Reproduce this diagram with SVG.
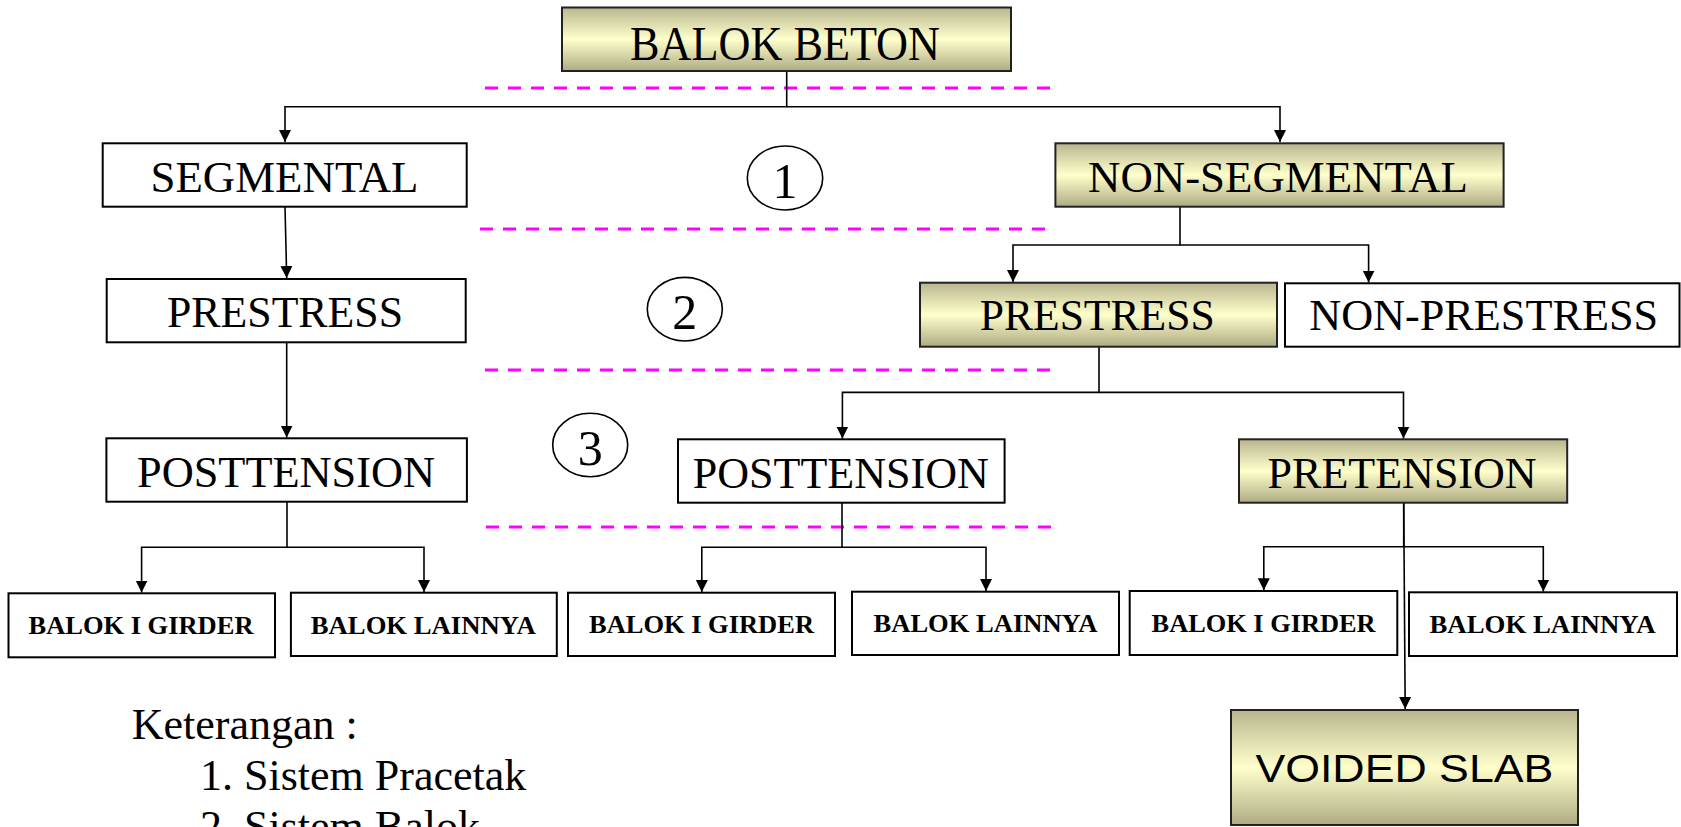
<svg xmlns="http://www.w3.org/2000/svg" width="1681" height="827" viewBox="0 0 1681 827">
<defs>
<linearGradient id="olive" x1="0" y1="0" x2="0" y2="1">
<stop offset="0" stop-color="#b9b68e"/>
<stop offset="0.5" stop-color="#ffffcc"/>
<stop offset="1" stop-color="#aeab83"/>
</linearGradient>
<marker id="arr" markerUnits="userSpaceOnUse" markerWidth="14" markerHeight="14" viewBox="0 0 14 14" refX="12" refY="7" orient="auto">
<path d="M0,1 L12,7 L0,13 Z" fill="#000"/>
</marker>
<style>
.plain{fill:#fff;stroke:#000;stroke-width:2}
.grad{fill:url(#olive);stroke:#222;stroke-width:2}
.t{font-family:"Liberation Serif","Times New Roman",serif;font-size:45px;fill:#000;text-anchor:middle}
.tb{font-family:"Liberation Serif","Times New Roman",serif;font-size:26px;font-weight:bold;fill:#000;text-anchor:middle}
.conn path{fill:none;stroke:#000;stroke-width:1.6}
.dash{stroke:#ff00ff;stroke-width:3;stroke-dasharray:13 10;fill:none}
.circ{fill:#fff;stroke:#000;stroke-width:1.6}
.num{font-family:"Liberation Serif","Times New Roman",serif;font-size:50px;fill:#000;text-anchor:middle}
.leg{font-family:"Liberation Serif","Times New Roman",serif;font-size:44px;fill:#000}
</style>
</defs>
<rect width="1681" height="827" fill="#fff"/>

<g id="dividers">
<line class="dash" x1="485" y1="88" x2="1056" y2="88"/>
<line class="dash" x1="480" y1="229" x2="1051" y2="229"/>
<line class="dash" x1="485" y1="370" x2="1056" y2="370"/>
<line class="dash" x1="486" y1="527" x2="1056" y2="527"/>
</g>

<g id="connectors" class="conn">
<path d="M786.7,71 V106.7 H285 V142" marker-end="url(#arr)"/>
<path d="M786.7,106.7 H1280 V142" marker-end="url(#arr)"/>
<path d="M285,206.7 L286.7,278" marker-end="url(#arr)"/>
<path d="M286.7,342.3 V437.5" marker-end="url(#arr)"/>
<path d="M287,501.7 V547.3 H141.6 V592.5" marker-end="url(#arr)"/>
<path d="M287,547.3 H424 V592" marker-end="url(#arr)"/>
<path d="M1180,206.7 V245 H1013 V282" marker-end="url(#arr)"/>
<path d="M1180,245 H1368.6 V282.5" marker-end="url(#arr)"/>
<path d="M1099,346.7 V392.4 H842.4 V438.5" marker-end="url(#arr)"/>
<path d="M1099,392.4 H1403.5 V438.5" marker-end="url(#arr)"/>
<path d="M842,502.7 V547.3 H701.8 V592" marker-end="url(#arr)"/>
<path d="M842,547.3 H986 V591" marker-end="url(#arr)"/>
<path d="M1403.7,502.7 V546.7 H1263.8 V590.3" marker-end="url(#arr)"/>
<path d="M1403.7,546.7 H1543.3 V591.5" marker-end="url(#arr)"/>
<path d="M1403.7,502.7 L1405.2,709" marker-end="url(#arr)"/>
</g>

<g id="n-balok-beton">
<rect class="grad" x="562" y="7.5" width="449" height="63.5"/>
<text class="t" x="785" y="60" style="font-size:49px" textLength="310" lengthAdjust="spacingAndGlyphs">BALOK BETON</text>
</g>

<g id="n-segmental">
<rect class="plain" x="102.7" y="143.3" width="364" height="63.4"/>
<text class="t" x="284.5" y="191.7" textLength="268" lengthAdjust="spacingAndGlyphs">SEGMENTAL</text>
</g>

<g id="n-non-segmental">
<rect class="grad" x="1055.4" y="143.3" width="448.2" height="63.4"/>
<text class="t" x="1278" y="192" textLength="380" lengthAdjust="spacingAndGlyphs">NON-SEGMENTAL</text>
</g>

<g id="n-prestress-left">
<rect class="plain" x="106.7" y="279" width="359" height="63.3"/>
<text class="t" x="285" y="326.7" textLength="236" lengthAdjust="spacingAndGlyphs">PRESTRESS</text>
</g>

<g id="n-prestress-right">
<rect class="grad" x="920" y="282.7" width="357" height="64"/>
<text class="t" x="1097.2" y="330" textLength="235" lengthAdjust="spacingAndGlyphs">PRESTRESS</text>
</g>

<g id="n-non-prestress">
<rect class="plain" x="1285" y="283.3" width="394.5" height="63.4"/>
<text class="t" x="1483.7" y="330" textLength="349" lengthAdjust="spacingAndGlyphs">NON-PRESTRESS</text>
</g>

<g id="n-posttension-left">
<rect class="plain" x="106.4" y="438.3" width="360.5" height="63.4"/>
<text class="t" x="286" y="486.7" textLength="298" lengthAdjust="spacingAndGlyphs">POSTTENSION</text>
</g>

<g id="n-posttension-mid">
<rect class="plain" x="678" y="439.3" width="326.6" height="63.4"/>
<text class="t" x="840.8" y="487.7" textLength="296" lengthAdjust="spacingAndGlyphs">POSTTENSION</text>
</g>

<g id="n-pretension">
<rect class="grad" x="1239" y="439.3" width="328.2" height="63.4"/>
<text class="t" x="1402.1" y="487.7" textLength="269" lengthAdjust="spacingAndGlyphs">PRETENSION</text>
</g>

<g id="n-girder-1">
<rect class="plain" x="8.5" y="593.3" width="266.5" height="64"/>
<text class="tb" x="141" y="634" textLength="225" lengthAdjust="spacingAndGlyphs">BALOK I GIRDER</text>
</g>
<g id="n-lainnya-1">
<rect class="plain" x="290.9" y="592.7" width="265.9" height="63.3"/>
<text class="tb" x="423.3" y="634" textLength="225" lengthAdjust="spacingAndGlyphs">BALOK LAINNYA</text>
</g>
<g id="n-girder-2">
<rect class="plain" x="568" y="592.7" width="267" height="63.3"/>
<text class="tb" x="701.5" y="633.3" textLength="225" lengthAdjust="spacingAndGlyphs">BALOK I GIRDER</text>
</g>
<g id="n-lainnya-2">
<rect class="plain" x="852" y="591.7" width="267" height="63.3"/>
<text class="tb" x="985.5" y="632.3" textLength="224" lengthAdjust="spacingAndGlyphs">BALOK LAINNYA</text>
</g>
<g id="n-girder-3">
<rect class="plain" x="1129.7" y="591" width="267.6" height="64"/>
<text class="tb" x="1263.6" y="632.3" textLength="224" lengthAdjust="spacingAndGlyphs">BALOK I GIRDER</text>
</g>
<g id="n-lainnya-3">
<rect class="plain" x="1409" y="592.3" width="268" height="63.7"/>
<text class="tb" x="1542.5" y="633.3" textLength="226" lengthAdjust="spacingAndGlyphs">BALOK LAINNYA</text>
</g>

<g id="n-voided-slab">
<rect class="grad" x="1231" y="710" width="347" height="115"/>
<text x="1404.4" y="782" style="font-family:'Liberation Sans',Arial,sans-serif;font-size:38px;fill:#000;text-anchor:middle" textLength="298" lengthAdjust="spacingAndGlyphs">VOIDED SLAB</text>
</g>

<g id="labels">
<ellipse class="circ" cx="785" cy="178" rx="37.7" ry="32"/>
<text class="num" x="785" y="198">1</text>
<ellipse class="circ" cx="684.8" cy="309.2" rx="37.5" ry="31.8"/>
<text class="num" x="684.8" y="329">2</text>
<ellipse class="circ" cx="590.2" cy="445" rx="37.5" ry="31.7"/>
<text class="num" x="590.2" y="465">3</text>
</g>

<g id="legend">
<text class="leg" x="131.7" y="739.3">Keterangan :</text>
<text class="leg" x="200" y="790">1. Sistem Pracetak</text>
<text class="leg" x="200" y="840.5">2. Sistem Balok</text>
</g>
</svg>
